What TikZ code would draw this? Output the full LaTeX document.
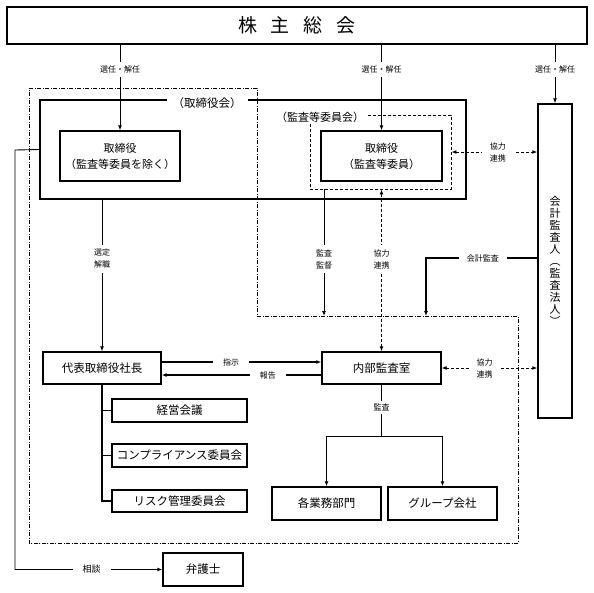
\documentclass[tikz,border=0pt]{standalone}
\usepackage{fontspec}
\setmainfont{Noto Sans CJK JP}
\usetikzlibrary{arrows.meta}
\begin{document}
\begin{tikzpicture}[x=1pt,y=-1pt,
  box/.style={draw, line width=1.4pt, inner sep=0pt, align=center, font=\fontsize{11.5}{16}\selectfont},
  lbl/.style={fill=white, inner xsep=8pt, inner ysep=4pt, align=center, font=\fontsize{8}{12}\selectfont},
  plainlbl/.style={fill=white, inner sep=2pt, font=\fontsize{11.5}{14}\selectfont},
  conn/.style={line width=0.9pt},
  thick conn/.style={line width=1.3pt},
  arr/.style={-{Latex[length=5pt,width=4pt]}},
  coop/.style={line width=0.9pt, dash pattern=on 3pt off 2pt, {Latex[length=5pt,width=4pt]}-{Latex[length=5pt,width=4pt]}},
  frame/.style={line width=0.6pt, dash pattern=on 4pt off 1.5pt on 1pt off 1.5pt},
  committee/.style={draw, line width=0.9pt, dash pattern=on 3pt off 2pt, inner sep=0pt}
]
\useasboundingbox[fill=white] (0,0) rectangle (594,592);

% dash-dot frame
\draw[frame] (29,88) -- (257,88) -- (257,316) -- (518,316) -- (518,543) -- (29,543) -- cycle;

% boxes
\node[box, line width=1.8pt, minimum width=580pt, minimum height=37pt, font=\fontsize{19}{22}\selectfont] (top) at (297,25.5) {株\hspace{14pt}主\hspace{14pt}総\hspace{14pt}会};
\node[draw, line width=1.4pt, minimum width=426pt, minimum height=99pt, inner sep=0pt] (board) at (253,149.5) {};
\node[committee, minimum width=141pt, minimum height=74pt] (acbox) at (380.5,152) {};
\node[box, minimum width=120pt, minimum height=50pt, font=\fontsize{11}{16}\selectfont] (d1) at (120,156) {取締役\\（監査等委員を除く）};
\node[box, minimum width=121pt, minimum height=50pt, font=\fontsize{11}{16}\selectfont] (d2) at (381.5,156) {取締役\\（監査等委員）};
\node[box, minimum width=34pt, minimum height=314pt, font=\fontsize{11}{12}\selectfont] (aud) at (555,261) {会\\計\\監\\査\\人\\︵\\監\\査\\法\\人\\︶};
\node[box, minimum width=118pt, minimum height=32pt] (pres) at (102,368) {代表取締役社長};
\node[box, minimum width=119pt, minimum height=32pt] (int) at (381.5,368) {内部監査室};
\node[box, minimum width=135pt, minimum height=23pt] (keiei) at (179.5,410.5) {経営会議};
\node[box, minimum width=135pt, minimum height=23pt] (comp) at (179.5,455.5) {コンプライアンス委員会};
\node[box, minimum width=135pt, minimum height=22pt] (risk) at (179.5,501) {リスク管理委員会};
\node[box, minimum width=80pt, minimum height=33pt] (law) at (203,569.5) {弁護士};
\node[box, minimum width=109pt, minimum height=33pt] (gyomu) at (326.5,503.5) {各業務部門};
\node[box, minimum width=109pt, minimum height=33pt] (group) at (442.5,503.5) {グループ会社};

% group titles
\node[plainlbl, inner xsep=6pt] (boardlbl) at (207,103) {（取締役会）};
\node[plainlbl, font=\fontsize{11}{14}\selectfont] (aclbl) at (320,117) {（監査等委員会）};

% named free ends
\coordinate (kanEnd) at (324,316);
\coordinate (kaikeiEnd) at (426,316);
\coordinate (lc) at (15,150);

% connectors
\draw[conn,arr] (top.south -| d1.north) -- node[lbl,pos=0.29]{選任・解任} (d1.north);
\draw[conn,arr] (top.south -| d2.north) -- node[lbl,pos=0.29]{選任・解任} (d2.north);
\draw[conn,arr] (top.south -| aud.north) -- node[lbl,pos=0.42]{選任・解任} (aud.north);

\draw[coop] (acbox.east) -- node[lbl,pos=0.54]{協力\\連携} (acbox.east -| aud.west);
\draw[conn,arr] (board.south -| pres.north) -- node[lbl,pos=0.39]{選定\\解職} (pres.north);
\draw[conn,arr] (acbox.south -| kanEnd) -- node[lbl,pos=0.55]{監査\\監督} (kanEnd);
\draw[coop] (acbox.south -| int.north) -- node[lbl,pos=0.43]{協力\\連携} (int.north);
\draw[conn,line width=1.1pt,arr] ([yshift=3pt]aud.west) -| node[lbl,pos=0.245]{会計監査} (kaikeiEnd);
\draw[coop] (int.east) -- node[lbl,pos=0.45]{協力\\連携} (int.east -| aud.west);

\draw[thick conn,arr] ([yshift=6pt]pres.east) -- node[lbl,pos=0.435,inner xsep=10pt]{指示} ([yshift=6pt]int.west);
\draw[thick conn,arr] ([yshift=-7pt]int.west) -- node[lbl,pos=0.335,inner xsep=10pt]{報告} ([yshift=-7pt]pres.east);

\draw[thick conn] (pres.south) |- (keiei.west);
\draw[thick conn] (pres.south) |- (comp.west);
\draw[thick conn] (pres.south) |- (risk.west);

\draw[conn] (int.south) -- node[lbl,pos=0.44,inner ysep=3pt]{監査} ++(0,52) coordinate (ms);
\draw[conn,arr] (ms) -| (gyomu.north);
\draw[conn,arr] (ms) -| (group.north);

\draw[conn,arr] (board.west) -- (lc) |- node[lbl,pos=0.76,inner xsep=10pt,font=\fontsize{9}{12}\selectfont]{相談} (law.west);
\end{tikzpicture}
\end{document}
